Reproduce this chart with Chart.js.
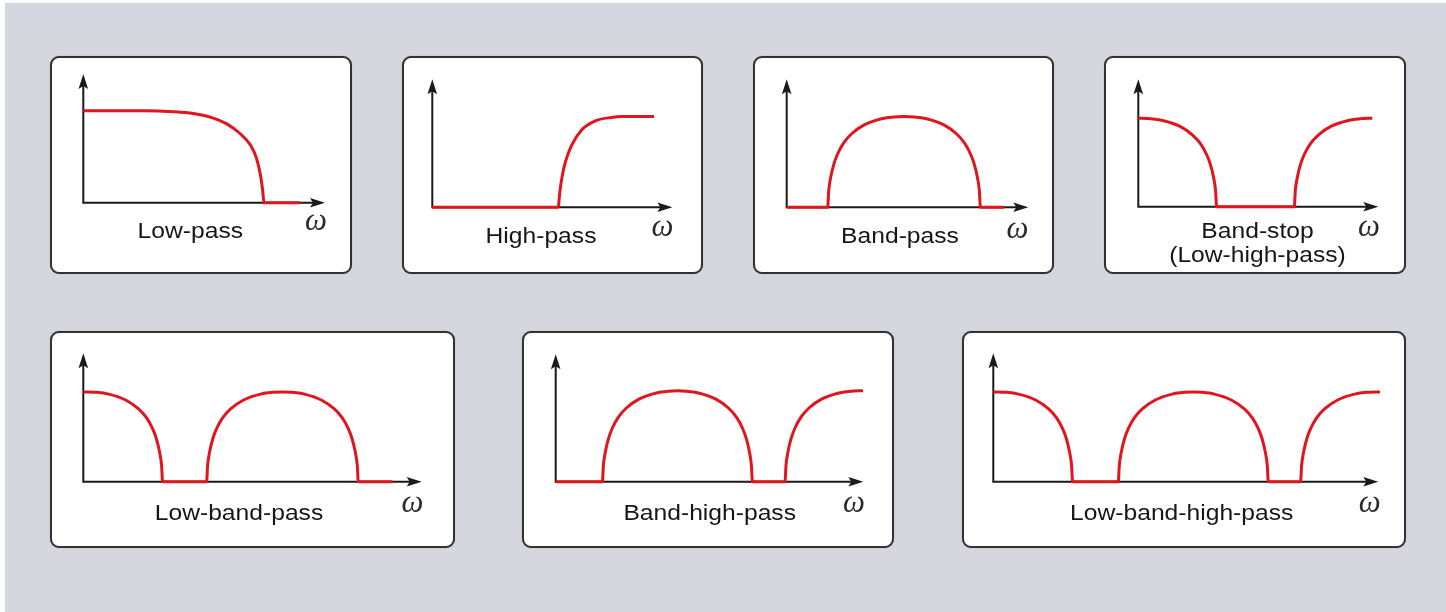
<!DOCTYPE html>
<html>
<head>
<meta charset="utf-8">
<script src="https://cdn.jsdelivr.net/npm/chart.js@4/dist/chart.umd.min.js"></script>
<style>
  html, body { margin: 0; padding: 0; background: #ffffff; }
  body { width: 1446px; height: 612px; position: relative; overflow: hidden; }
  #backdrop { position: absolute; left: 5px; top: 3px; right: 0; bottom: 0; background: #d6d6de; }
  .panel { position: absolute; box-sizing: border-box; border: 2px solid #333333; border-radius: 9px;
           background: #ffffff; box-shadow: 0 0 1px rgba(0,0,0,0.4); }
  canvas.filter { position: absolute; }
</style>
</head>
<body>
<div id="backdrop"></div>
<script>
// Filter names (one entry per panel, each entry = the caption lines)
const filterNames = [
  ["Low-pass"],
  ["High-pass"],
  ["Band-pass"],
  ["Band-stop", "(Low-high-pass)"],
  ["Low-band-pass"],
  ["Band-high-pass"],
  ["Low-band-high-pass"]
];

// Magnitude responses: frequency samples (ω) and gain (pass level = 1)
const lowPassW = [0, 6.0, 9.0, 11.0, 13.0, 14.3, 15.7, 16.7, 17.3, 17.7, 17.93, 18.07, 21.7];
const lowPassH = [1, 1, 0.99, 0.97, 0.92, 0.86, 0.75, 0.63, 0.49, 0.31, 0.14, 0, 0];

const highPassW = [0, 12.6, 12.77, 13.0, 13.33, 13.93, 14.93, 16.27, 17.93, 19.0, 22.2];
const highPassH = [0, 0, 0.17, 0.34, 0.5, 0.68, 0.85, 0.95, 0.99, 1.0, 1.0];

const bandPassW = [0, 4.1, 4.2, 4.4, 4.7, 5.1, 5.7, 6.5, 7.8, 9.5, 10.7, 11.73, 12.77, 13.97, 15.67, 16.97, 17.77, 18.37, 18.77, 19.07, 19.27, 19.37, 21.77];
const bandPassH = [0, 0, 0.18, 0.33, 0.47, 0.59, 0.71, 0.81, 0.91, 0.975, 0.995, 1, 0.995, 0.975, 0.91, 0.81, 0.71, 0.59, 0.47, 0.33, 0.18, 0, 0];

const bandStopW = [0, 1.23, 2.43, 4.13, 5.43, 6.23, 6.83, 7.23, 7.53, 7.73, 7.83, 15.6, 15.7, 15.9, 16.2, 16.6, 17.2, 18.0, 19.3, 21.0, 22.2, 23.4];
const bandStopH = [1, 0.995, 0.975, 0.91, 0.81, 0.71, 0.59, 0.47, 0.33, 0.18, 0, 0, 0.18, 0.33, 0.47, 0.59, 0.71, 0.81, 0.91, 0.975, 0.995, 1];

const lowBandPassW = [0, 1.33, 2.53, 4.23, 5.53, 6.33, 6.93, 7.33, 7.63, 7.83, 7.93, 12.33, 12.43, 12.63, 12.93, 13.33, 13.93, 14.73, 16.03, 17.73, 18.93, 19.92, 20.9, 22.1, 23.8, 25.1, 25.9, 26.5, 26.9, 27.2, 27.4, 27.5, 30.93];
const lowBandPassH = [1, 0.995, 0.975, 0.91, 0.81, 0.71, 0.59, 0.47, 0.33, 0.18, 0, 0, 0.18, 0.33, 0.47, 0.59, 0.71, 0.81, 0.91, 0.975, 0.995, 1, 0.995, 0.975, 0.91, 0.81, 0.71, 0.59, 0.47, 0.33, 0.18, 0, 0];

const bandHighPassW = [0, 4.67, 4.77, 4.97, 5.27, 5.67, 6.27, 7.07, 8.37, 10.07, 11.27, 12.17, 13.07, 14.27, 15.97, 17.27, 18.07, 18.67, 19.07, 19.37, 19.57, 19.67, 22.93, 23.03, 23.23, 23.53, 23.93, 24.53, 25.33, 26.63, 28.33, 29.53, 30.73];
const bandHighPassH = [0, 0, 0.18, 0.33, 0.47, 0.59, 0.71, 0.81, 0.91, 0.975, 0.995, 1, 0.995, 0.975, 0.91, 0.81, 0.71, 0.59, 0.47, 0.33, 0.18, 0, 0, 0.18, 0.33, 0.47, 0.59, 0.71, 0.81, 0.91, 0.975, 0.995, 1];

const lowBandHighPassW = [0, 1.33, 2.53, 4.23, 5.53, 6.33, 6.93, 7.33, 7.63, 7.83, 7.93, 12.5, 12.6, 12.8, 13.1, 13.5, 14.1, 14.9, 16.2, 17.9, 19.1, 20.0, 20.9, 22.1, 23.8, 25.1, 25.9, 26.5, 26.9, 27.2, 27.4, 27.5, 30.73, 30.83, 31.03, 31.33, 31.73, 32.33, 33.13, 34.43, 36.13, 37.33, 38.67];
const lowBandHighPassH = [1, 0.995, 0.975, 0.91, 0.81, 0.71, 0.59, 0.47, 0.33, 0.18, 0, 0, 0.18, 0.33, 0.47, 0.59, 0.71, 0.81, 0.91, 0.975, 0.995, 1, 0.995, 0.975, 0.91, 0.81, 0.71, 0.59, 0.47, 0.33, 0.18, 0, 0, 0.18, 0.33, 0.47, 0.59, 0.71, 0.81, 0.91, 0.975, 0.995, 1];

// Axis extents (ω range and gain range spanned by each pair of arrows)
const omegaMax = [24.17, 24.04, 24.16, 24.0, 33.84, 30.76, 38.5];
const gainMax  = [1.40, 1.41, 1.41, 1.44, 1.43, 1.40, 1.43];

const series = [
  [lowPassW, lowPassH], [highPassW, highPassH], [bandPassW, bandPassH], [bandStopW, bandStopH],
  [lowBandPassW, lowBandPassH], [bandHighPassW, bandHighPassH], [lowBandHighPassW, lowBandHighPassH]
];

// Layout of each card: box [left, top, width, height], origin of the axes inside the card,
// x of the ω arrow tip, y of the gain arrow tip, caption centre / first baseline, ω symbol centre.
const layout = [
  { box: [50, 56, 302, 218],  origin: [33.3, 146.7], tip: 275.0, top: 18.0, caption: [140.3, 181.7], omega: [266.0, 165.5] },
  { box: [402, 56, 301, 218], origin: [30.3, 151.3], tip: 270.4, top: 23.3, caption: [139.0, 186.7], omega: [260.5, 172.0] },
  { box: [753, 56, 301, 218], origin: [33.7, 151.3], tip: 275.3, top: 23.3, caption: [147.0, 187.3], omega: [264.5, 174.0] },
  { box: [1104, 56, 302, 218],origin: [34.3, 150.7], tip: 274.3, top: 23.3, caption: [153.5, 181.5], omega: [265.0, 172.0] },
  { box: [50, 331, 405, 217], origin: [33.3, 150.7], tip: 371.7, top: 22.3, caption: [189.0, 189.0], omega: [362.5, 173.0] },
  { box: [522, 331, 372, 217],origin: [33.7, 150.7], tip: 341.3, top: 23.3, caption: [187.7, 189.0], omega: [332.0, 172.5] },
  { box: [962, 331, 444, 217],origin: [31.3, 150.7], tip: 416.3, top: 22.3, caption: [219.7, 189.0], omega: [407.7, 173.0] }
];

const RED = '#e0151d';
const INK = '#1a1a1a';

function arrowHead(ctx, tx, ty, dirX, dirY) {
  const len = 15, half = 4.8, notch = 3;
  const px = -dirY, py = dirX;
  const bx = tx - dirX * len, by = ty - dirY * len;
  ctx.beginPath();
  ctx.moveTo(tx, ty);
  ctx.lineTo(bx + px * half, by + py * half);
  ctx.lineTo(tx - dirX * (len - notch), ty - dirY * (len - notch));
  ctx.lineTo(bx - px * half, by - py * half);
  ctx.closePath();
  ctx.fill();
}

// Draws the ω / gain axes with arrowheads under the curve, and the captions on top.
const filterDecor = {
  id: 'filterDecor',
  beforeDatasetsDraw(chart, args, opts) {
    const ctx = chart.ctx;
    const sx = chart.scales.x, sy = chart.scales.y;
    const x0 = sx.getPixelForValue(0), y0 = sy.getPixelForValue(0);
    const xe = sx.getPixelForValue(sx.max), ye = sy.getPixelForValue(sy.max);
    ctx.save();
    ctx.strokeStyle = INK; ctx.fillStyle = INK; ctx.lineWidth = 2; ctx.lineCap = 'butt';
    ctx.beginPath();
    ctx.moveTo(x0, y0 + 1); ctx.lineTo(x0, ye + 10);
    ctx.moveTo(x0 - 1, y0); ctx.lineTo(xe - 10, y0);
    ctx.stroke();
    arrowHead(ctx, x0, ye, 0, -1);
    arrowHead(ctx, xe, y0, 1, 0);
    ctx.restore();
  },
  afterDraw(chart, args, opts) {
    const ctx = chart.ctx;
    ctx.save();
    ctx.fillStyle = '#161616';
    ctx.textAlign = 'center';
    ctx.textBaseline = 'alphabetic';
    ctx.font = '22px "Liberation Sans", Arial, Helvetica, sans-serif';
    opts.lines.forEach((line, k) => {
      ctx.save();
      ctx.translate(opts.caption[0], opts.caption[1] + k * 24.5);
      ctx.scale(1.12, 1);
      ctx.fillText(line, 0, 0);
      ctx.restore();
    });
    ctx.fillStyle = '#2a2a2a';
    ctx.font = 'italic 31px "Liberation Serif", "DejaVu Serif", serif';
    ctx.textBaseline = 'middle';
    ctx.fillText('ω', opts.omega[0], opts.omega[1]);
    ctx.restore();
  }
};

series.forEach(([w, h], i) => {
  const L = layout[i];
  const [left, top, width, height] = L.box;

  const card = document.createElement('div');
  card.className = 'panel';
  Object.assign(card.style, { left: left + 'px', top: top + 'px', width: width + 'px', height: height + 'px' });
  document.body.appendChild(card);

  const cv = document.createElement('canvas');
  cv.className = 'filter';
  cv.width = width; cv.height = height;
  Object.assign(cv.style, { left: left + 'px', top: top + 'px', width: width + 'px', height: height + 'px' });
  document.body.appendChild(cv);

  new Chart(cv, {
    type: 'line',
    data: {
      datasets: [{
        label: filterNames[i].join(' '),
        data: w.map((x, k) => ({ x: x, y: h[k] })),
        borderColor: RED,
        borderWidth: 3,
        pointRadius: 0,
        fill: false,
        cubicInterpolationMode: 'monotone',
        borderCapStyle: 'butt',
        borderJoinStyle: 'round',
        clip: false
      }]
    },
    options: {
      responsive: false,
      devicePixelRatio: 1,
      animation: false,
      events: [],
      layout: { padding: { left: L.origin[0], right: width - L.tip, top: L.top, bottom: height - L.origin[1] } },
      scales: {
        x: { type: 'linear', min: 0, max: omegaMax[i], display: false },
        y: { type: 'linear', min: 0, max: gainMax[i], display: false }
      },
      plugins: {
        legend: { display: false },
        tooltip: { enabled: false },
        filterDecor: { lines: filterNames[i], caption: L.caption, omega: L.omega }
      }
    },
    plugins: [filterDecor]
  });
});
</script>
</body>
</html>
